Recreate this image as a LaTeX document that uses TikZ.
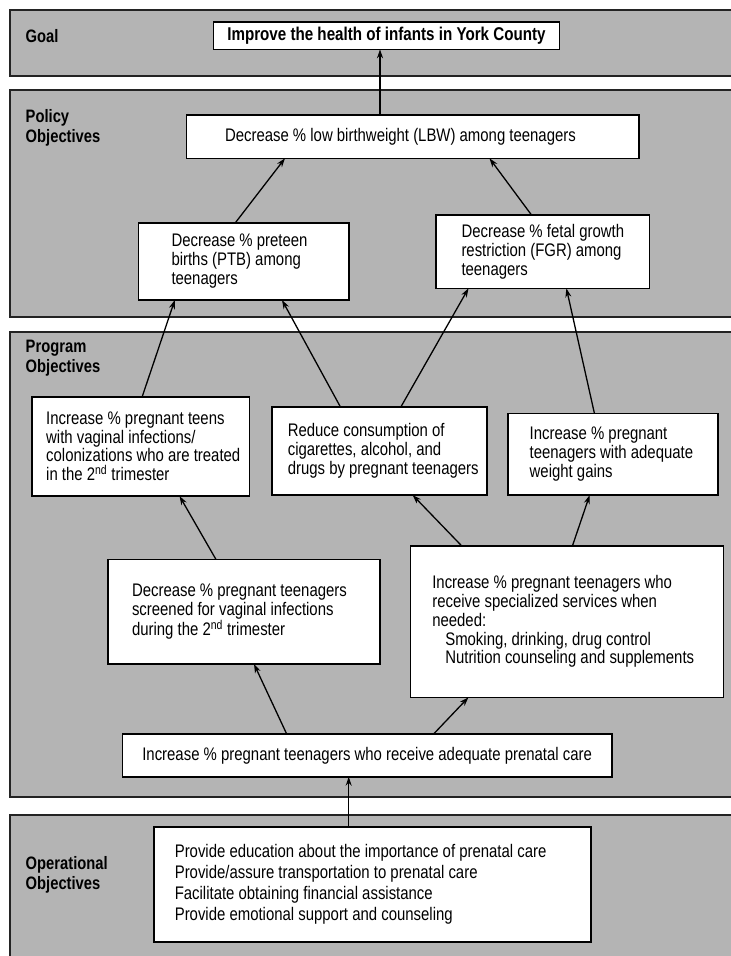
\documentclass[tikz,border=0pt]{standalone}
\usepackage{fontspec}
\setmainfont{Liberation Sans}[FakeStretch=0.82]
\usetikzlibrary{arrows.meta}
\definecolor{bandgray}{RGB}{180,180,180}
\definecolor{bandline}{RGB}{35,35,35}
\hfuzz=80pt
\hbadness=10000
\newcommand{\myln}[1]{\mbox{\spaceskip=0pt\xspaceskip=0pt #1}}
\newcommand{\mybox}[7]{%
  \pgfmathsetmacro{\mybw}{#4-#2}\pgfmathsetmacro{\mybh}{#5-#3}%
  \pgfmathsetmacro{\mytw}{\mybw-2*#6}%
  \node[box, inner xsep=#6pt, text width=\mytw pt, minimum height=\mybh pt] (#1) at ({(#2+#4)/2},{(#3+#5)/2}) {#7};}
\begin{document}
\begin{tikzpicture}[x=1pt,y=-1pt,
  band/.style={draw=bandline, line width=2pt, fill=bandgray},
  lbl/.style={anchor=west, align=left, font=\fontsize{18}{20}\selectfont\bfseries, inner sep=0pt},
  box/.style={draw=black, line width=1.6pt, fill=white, outer sep=0pt, inner ysep=0pt, font=\fontsize{18.2}{18.8}\selectfont, align=left},
  arr/.style={line width=1.3pt, -{Stealth[length=9pt,width=6pt]}},
]
\useasboundingbox (0,0) rectangle (731,956);
% bands
\draw[band] (10,10) rectangle (760,76);
\draw[band] (10,90) rectangle (760,316.7);
\draw[band] (10,331.7) rectangle (760,796.7);
\draw[band] (10,815) rectangle (760,990);
% band labels
\node[lbl] (lgoal) at (25.5,36) {Goal};
\node[lbl] (lpolicy) at (25.5,128) {Policy\\Objectives};
\node[lbl] (lprogram) at (25.5,358.5) {Program\\Objectives};
\node[lbl] (loper) at (25.5,874.5) {Operational\\Objectives};
% boxes
\node[box, font=\fontsize{18.5}{19}\selectfont\bfseries, align=center, inner xsep=0pt,
  minimum width=345.9pt, minimum height=27.6pt] (goal) at (386.45,35.5) {Improve the health of infants in York County};
\mybox{lbw}{186.5}{115}{638.7}{158.3}{38.5}{\myln{Decrease \% low birthweight (LBW) among teenagers}}
\mybox{ptb}{138.5}{222.7}{348.7}{300}{33}{\myln{Decrease \% preteen}\\\myln{births (PTB) among}\\\myln{teenagers}}
\mybox{fgr}{435.9}{215}{649.4}{288.3}{25.6}{\myln{Decrease \% fetal growth}\\\myln{restriction (FGR) among}\\\myln{teenagers}}
\mybox{boxa}{31.7}{396.7}{249.4}{496}{14.5}{\myln{Increase \% pregnant teens}\\\myln{with vaginal infections/}\\\myln{colonizations who are treated}\\\myln{in the 2\textsuperscript{nd} trimester}}
\mybox{boxb}{271.8}{406.7}{487.2}{495}{16}{\myln{Reduce consumption of}\\\myln{cigarettes, alcohol, and}\\\myln{drugs by pregnant teenagers}}
\mybox{boxc}{508.2}{413.3}{718}{495}{21.5}{\myln{Increase \% pregnant}\\\myln{teenagers with adequate}\\\myln{weight gains}}
\mybox{boxd}{108.2}{559.3}{380}{664}{23.8}{\myln{Decrease \% pregnant teenagers}\\\myln{screened for vaginal infections}\\\myln{during the 2\textsuperscript{nd} trimester}}
\mybox{boxe}{410.3}{545.7}{723.5}{697.3}{22}{\myln{Increase \% pregnant teenagers who}\\\myln{receive specialized services when}\\\myln{needed:}\\\myln{\hspace*{13pt}Smoking, drinking, drug control}\\\myln{\hspace*{13pt}Nutrition counseling and supplements}}
\node[box, align=center, inner xsep=0pt, minimum width=489.1pt, minimum height=42.7pt] (boxf) at (367.15,755.35) {Increase \% pregnant teenagers who receive adequate prenatal care};
\node[box, font=\fontsize{18.2}{21}\selectfont, inner xsep=21pt, text width=395.3pt, minimum height=115pt] (boxg) at (372.45,884.2) {\myln{Provide education about the importance of prenatal care}\\\myln{Provide/assure transportation to prenatal care}\\\myln{Facilitate obtaining financial assistance}\\\myln{Provide emotional support and counseling}};
% arrows
\draw[arr] ([xshift=193.5pt]lbw.north west) -- ([xshift=166.5pt]goal.south west);
\draw[arr] ([xshift=96.9pt]ptb.north west) -- ([xshift=98.5pt]lbw.south west);
\draw[arr] ([xshift=95.6pt]fgr.north west) -- ([xshift=303pt]lbw.south west);
\draw[arr] ([xshift=110.5pt]boxa.north west) -- ([xshift=36.3pt]ptb.south west);
\draw[arr] ([xshift=68.5pt]boxb.north west) -- ([xshift=143.5pt]ptb.south west);
\draw[arr] ([xshift=129.2pt]boxb.north west) -- ([xshift=32.6pt]fgr.south west);
\draw[arr] ([xshift=86.2pt]boxc.north west) -- ([xshift=130.5pt]fgr.south west);
\draw[arr] ([xshift=107.7pt]boxd.north west) -- ([xshift=147.8pt]boxa.south west);
\draw[arr] ([xshift=51.2pt]boxe.north west) -- ([xshift=140.8pt]boxb.south west);
\draw[arr] ([xshift=162.2pt]boxe.north west) -- ([xshift=81.5pt]boxc.south west);
\draw[arr] ([xshift=164.1pt]boxf.north west) -- ([xshift=145.8pt]boxd.south west);
\draw[arr] ([xshift=311pt]boxf.north west) -- ([xshift=58.2pt]boxe.south west);
\draw[arr] ([xshift=194.9pt]boxg.north west) -- ([xshift=226.1pt]boxf.south west);
\end{tikzpicture}
\end{document}
